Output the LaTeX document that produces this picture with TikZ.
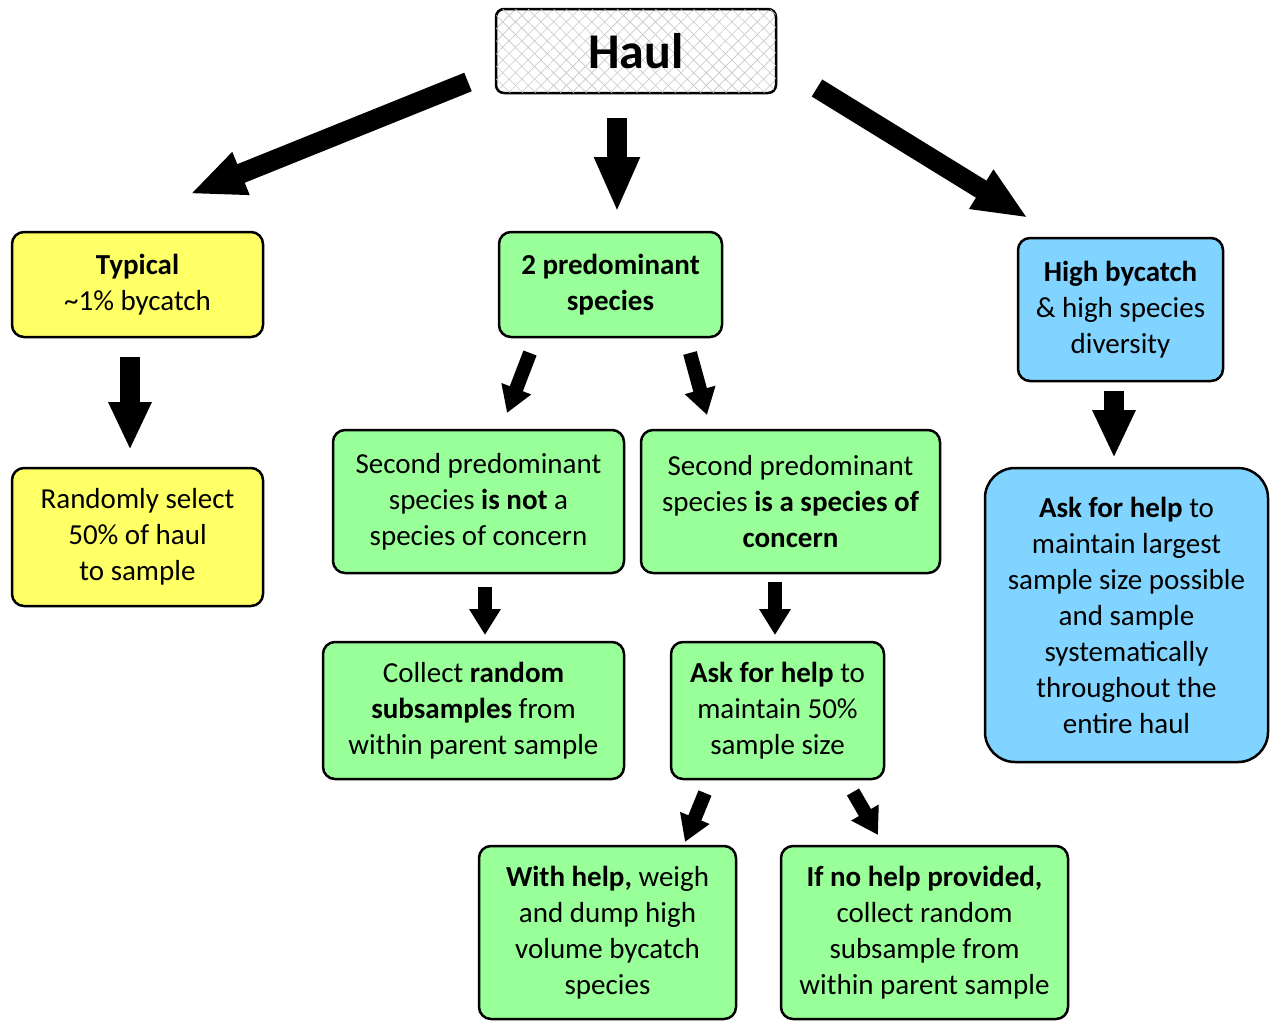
\documentclass[tikz,border=0pt]{standalone}
\usepackage{fontspec}
\setmainfont{Carlito}
\usetikzlibrary{arrows.meta,patterns.meta}
\definecolor{ylw}{RGB}{255,255,102}
\definecolor{grn}{RGB}{153,255,153}
\definecolor{blu}{RGB}{128,212,255}
\begin{document}
\begin{tikzpicture}[x=1pt,y=-1pt,
  box/.style={draw=black, line width=2.5pt, rounded corners=12pt, inner sep=0pt,
    align=center, font=\fontsize{29}{36}\selectfont},
  ybox/.style={box, fill=ylw},
  gbox/.style={box, fill=grn},
  bbox/.style={box, fill=blu},
  bigarrow/.style={line width=20pt, -{Triangle[length=55pt,width=42pt]}},
  midarrow/.style={line width=20pt, -{Triangle[length=48pt,width=40pt]}},
  smallarrow/.style={line width=14pt, -{Triangle[length=26pt,width=30pt]}},
]
\useasboundingbox (0,0) rectangle (1270,1021);

% Haul
\node[draw=black, line width=2.5pt, rounded corners=8pt, inner sep=0pt,
  minimum width=280pt, minimum height=84pt,
  pattern={Lines[angle=45,distance=9pt,line width=0.6pt]}, pattern color=gray!45,
  postaction={pattern={Lines[angle=-45,distance=9pt,line width=0.6pt]}, pattern color=gray!45},
  font=\fontsize{50}{60}\selectfont\bfseries] (haul) at (636,51) {Haul};

% left branch
\node[ybox, minimum width=251pt, minimum height=105pt] (typ) at (137.5,284.5)
  {\textbf{Typical}\\\textasciitilde1\% bycatch};
\node[ybox, minimum width=251pt, minimum height=138pt] (rnd) at (137.5,537)
  {Randomly select\\50\% of haul\\to sample};

% middle
\node[gbox, minimum width=223pt, minimum height=105pt] (two) at (610.5,284.5)
  {\textbf{2 predominant}\\\textbf{species}};
\node[gbox, minimum width=291pt, minimum height=143pt] (notc) at (478.5,501.5)
  {Second predominant\\species \textbf{is not} a\\species of concern};
\node[gbox, minimum width=299pt, minimum height=143pt] (isc) at (790.5,501.5)
  {Second predominant\\species \textbf{is a species of}\\\textbf{concern}};
\node[gbox, minimum width=301pt, minimum height=137pt] (coll) at (473.5,710.5)
  {Collect \textbf{random}\\\textbf{subsamples} from\\within parent sample};
\node[gbox, minimum width=213pt, minimum height=137pt] (ask50) at (777.5,710.5)
  {\textbf{Ask for help} to\\maintain 50\%\\sample size};
\node[gbox, minimum width=257pt, minimum height=173pt] (with) at (607.5,932.5)
  {\textbf{With help,} weigh\\and dump high\\volume bycatch\\species};
\node[gbox, minimum width=287pt, minimum height=173pt] (nohelp) at (924.5,932.5)
  {\textbf{If no help provided,}\\collect random\\subsample from\\within parent sample};

% right
\node[bbox, minimum width=205pt, minimum height=143pt] (high) at (1120.5,309.5)
  {\textbf{High bycatch}\\\& high species\\diversity};
\node[bbox, rounded corners=30pt, minimum width=283pt, minimum height=294pt] (askl) at (1126.5,615)
  {\textbf{Ask for help} to\\maintain largest\\sample size possible\\and sample\\systematically\\throughout the\\entire haul};

% arrow end points
\coordinate (a1s) at (468,82);   \coordinate (a1e) at (190,194);
\coordinate (a2s) at (617,118);  \coordinate (a2e) at (617,212);
\coordinate (a3s) at (817,88);   \coordinate (a3e) at (1028,218);
\coordinate (a4s) at (130,357);  \coordinate (a4e) at (130,450);
\coordinate (a5s) at (1114,391); \coordinate (a5e) at (1114,458);
\coordinate (a6s) at (530,353);  \coordinate (a6e) at (507,413);
\coordinate (a7s) at (690,353);  \coordinate (a7e) at (707,415);
\coordinate (a8s) at (485,587);  \coordinate (a8e) at (485,635);
\coordinate (a9s) at (775,582);  \coordinate (a9e) at (775,635);
\coordinate (a10s) at (705,793); \coordinate (a10e) at (685,842);
\coordinate (a11s) at (853,792); \coordinate (a11e) at (878,835);

\draw[bigarrow] (a1s) -- (a1e);
\draw[bigarrow] (a2s) -- (a2e);
\draw[bigarrow] (a3s) -- (a3e);
\draw[midarrow] (a4s) -- (a4e);
\draw[midarrow] (a5s) -- (a5e);
\draw[smallarrow] (a6s) -- (a6e);
\draw[smallarrow] (a7s) -- (a7e);
\draw[smallarrow] (a8s) -- (a8e);
\draw[smallarrow] (a9s) -- (a9e);
\draw[smallarrow] (a10s) -- (a10e);
\draw[smallarrow] (a11s) -- (a11e);
\end{tikzpicture}
\end{document}
